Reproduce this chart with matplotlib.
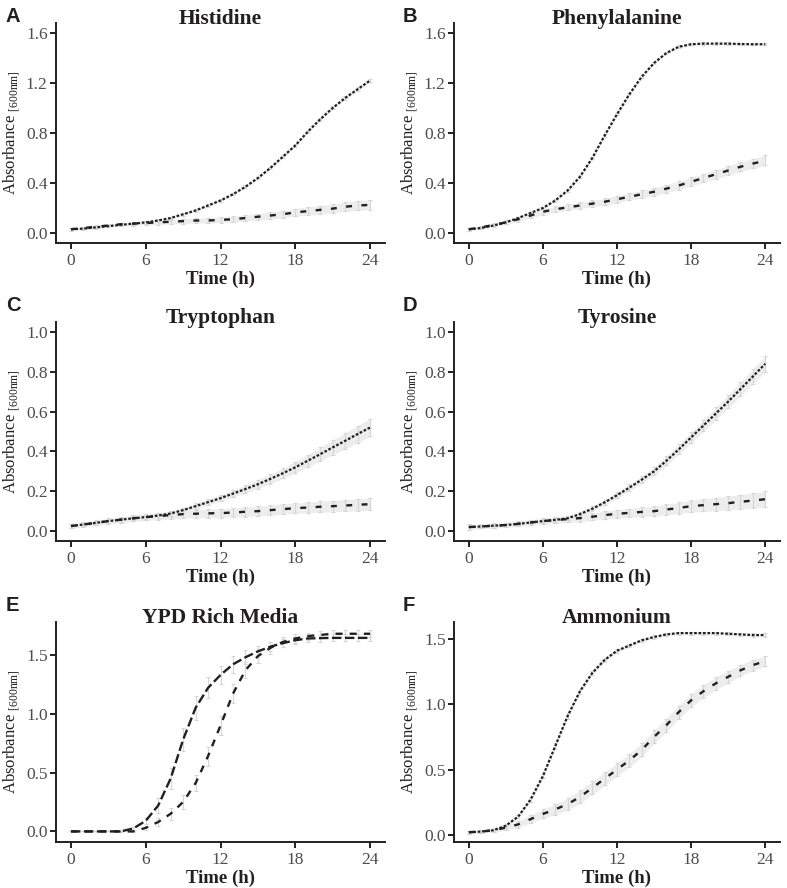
import numpy as np
import matplotlib
matplotlib.use('Agg')
import matplotlib.pyplot as plt

# time points (h)
hours = list(range(0, 25))

# Histidine
his_a = [0.03, 0.035, 0.045, 0.055, 0.065, 0.075, 0.085, 0.10, 0.12, 0.15, 0.18, 0.22, 0.26,
         0.31, 0.37, 0.44, 0.52, 0.61, 0.70, 0.81, 0.91, 1.00, 1.08, 1.15, 1.22]
his_a_err = [0.01] * 20 + [0.012, 0.012, 0.014, 0.015, 0.015]
his_b = [0.03, 0.04, 0.05, 0.06, 0.07, 0.075, 0.08, 0.085, 0.09, 0.095, 0.10, 0.10, 0.105,
         0.11, 0.12, 0.13, 0.14, 0.15, 0.165, 0.175, 0.185, 0.195, 0.21, 0.22, 0.225]
his_b_err = [0.01, 0.01, 0.012, 0.013, 0.014, 0.015, 0.016, 0.017, 0.018, 0.019, 0.02, 0.021, 0.022,
             0.023, 0.025, 0.026, 0.028, 0.029, 0.031, 0.032, 0.034, 0.035, 0.037, 0.038, 0.04]

# Phenylalanine
phe_a = [0.03, 0.04, 0.06, 0.085, 0.12, 0.16, 0.20, 0.26, 0.34, 0.45, 0.60, 0.78, 0.95,
         1.11, 1.25, 1.36, 1.44, 1.49, 1.51, 1.515, 1.515, 1.515, 1.512, 1.51, 1.51]
phe_a_err = [0.01] * 25
phe_b = [0.03, 0.045, 0.065, 0.085, 0.11, 0.14, 0.17, 0.19, 0.205, 0.22, 0.235, 0.25, 0.27,
         0.29, 0.31, 0.33, 0.355, 0.38, 0.41, 0.44, 0.47, 0.50, 0.53, 0.555, 0.58]
phe_b_err = [0.01, 0.012, 0.014, 0.016, 0.018, 0.02, 0.022, 0.023, 0.024, 0.025, 0.026, 0.027, 0.028,
             0.029, 0.03, 0.031, 0.032, 0.033, 0.034, 0.035, 0.036, 0.037, 0.038, 0.039, 0.04]

# Tryptophan
trp_a = [0.025, 0.033, 0.041, 0.05, 0.057, 0.064, 0.07, 0.078, 0.088, 0.105, 0.125, 0.145, 0.165,
         0.188, 0.211, 0.235, 0.262, 0.29, 0.32, 0.353, 0.386, 0.42, 0.453, 0.487, 0.52]
trp_a_err = [0.012, 0.01, 0.01, 0.01, 0.01, 0.01, 0.01, 0.011, 0.012, 0.013, 0.014, 0.015, 0.016,
             0.018, 0.02, 0.022, 0.024, 0.026, 0.028, 0.031, 0.034, 0.037, 0.04, 0.043, 0.045]
trp_b = [0.025, 0.033, 0.041, 0.05, 0.057, 0.064, 0.07, 0.075, 0.08, 0.085, 0.087, 0.089, 0.09,
         0.093, 0.097, 0.10, 0.105, 0.11, 0.115, 0.118, 0.122, 0.125, 0.128, 0.132, 0.135]
trp_b_err = [0.012, 0.012, 0.013, 0.014, 0.015, 0.016, 0.017, 0.018, 0.019, 0.02, 0.021, 0.022, 0.022,
             0.023, 0.024, 0.024, 0.025, 0.026, 0.026, 0.027, 0.028, 0.028, 0.029, 0.03, 0.03]

# Tyrosine
tyr_a = [0.02, 0.023, 0.027, 0.03, 0.036, 0.043, 0.05, 0.056, 0.064, 0.085, 0.112, 0.144, 0.18,
         0.218, 0.258, 0.30, 0.353, 0.41, 0.47, 0.53, 0.59, 0.65, 0.713, 0.776, 0.84]
tyr_a_err = [0.015, 0.01, 0.01, 0.01, 0.01, 0.01, 0.01, 0.01, 0.011, 0.012, 0.013, 0.014, 0.015,
             0.017, 0.019, 0.021, 0.023, 0.025, 0.027, 0.029, 0.031, 0.033, 0.035, 0.037, 0.04]
tyr_b = [0.02, 0.023, 0.027, 0.03, 0.036, 0.043, 0.05, 0.055, 0.06, 0.065, 0.072, 0.08, 0.087,
         0.091, 0.096, 0.10, 0.108, 0.116, 0.125, 0.13, 0.135, 0.14, 0.147, 0.153, 0.16]
tyr_b_err = [0.015, 0.01, 0.011, 0.012, 0.013, 0.014, 0.015, 0.016, 0.017, 0.018, 0.019, 0.02, 0.021,
             0.022, 0.024, 0.025, 0.027, 0.028, 0.03, 0.031, 0.033, 0.034, 0.036, 0.038, 0.04]

# YPD rich media
ypd_a = [0.0, 0.0, 0.0, 0.0, 0.0, 0.025, 0.09, 0.22, 0.45, 0.78, 1.05, 1.22, 1.33,
         1.42, 1.48, 1.53, 1.57, 1.60, 1.625, 1.64, 1.643, 1.645, 1.645, 1.645, 1.645]
ypd_a_err = [0.0, 0.0, 0.0, 0.0, 0.005, 0.01, 0.03, 0.06, 0.09, 0.1, 0.1, 0.09, 0.08,
             0.07, 0.06, 0.05, 0.04, 0.035, 0.03, 0.03, 0.03, 0.03, 0.03, 0.03, 0.03]
ypd_b = [0.0, 0.0, 0.0, 0.0, 0.0, 0.0, 0.03, 0.08, 0.15, 0.25, 0.41, 0.64, 0.90,
         1.17, 1.37, 1.49, 1.56, 1.61, 1.64, 1.66, 1.67, 1.68, 1.68, 1.68, 1.68]
ypd_b_err = [0.0, 0.0, 0.0, 0.0, 0.0, 0.005, 0.015, 0.03, 0.05, 0.06, 0.07, 0.08, 0.08,
             0.08, 0.07, 0.06, 0.05, 0.04, 0.035, 0.03, 0.03, 0.03, 0.03, 0.03, 0.03]

# Ammonium
amm_a = [0.02, 0.025, 0.035, 0.07, 0.14, 0.27, 0.45, 0.68, 0.91, 1.10, 1.24, 1.34, 1.41,
         1.45, 1.49, 1.515, 1.535, 1.545, 1.545, 1.545, 1.545, 1.54, 1.535, 1.53, 1.53]
amm_a_err = [0.01, 0.01, 0.01, 0.012, 0.014, 0.016, 0.018, 0.02, 0.02, 0.02, 0.018, 0.016, 0.015,
             0.014, 0.013, 0.012, 0.012, 0.012, 0.012, 0.012, 0.012, 0.012, 0.012, 0.012, 0.012]
amm_b = [0.02, 0.025, 0.035, 0.055, 0.08, 0.12, 0.16, 0.195, 0.235, 0.29, 0.36, 0.43, 0.50,
         0.57, 0.65, 0.75, 0.84, 0.94, 1.03, 1.10, 1.16, 1.21, 1.26, 1.30, 1.33]
amm_b_err = [0.01, 0.012, 0.015, 0.02, 0.025, 0.03, 0.035, 0.04, 0.045, 0.05, 0.05, 0.05, 0.05,
             0.05, 0.05, 0.05, 0.05, 0.05, 0.05, 0.05, 0.048, 0.046, 0.044, 0.042, 0.04]

panels = [
    ('A', 'Histidine', his_a, his_a_err, his_b, his_b_err, [0.0, 0.4, 0.8, 1.2, 1.6], (-0.08, 1.68)),
    ('B', 'Phenylalanine', phe_a, phe_a_err, phe_b, phe_b_err, [0.0, 0.4, 0.8, 1.2, 1.6], (-0.08, 1.68)),
    ('C', 'Tryptophan', trp_a, trp_a_err, trp_b, trp_b_err, [0.0, 0.2, 0.4, 0.6, 0.8, 1.0], (-0.05, 1.05)),
    ('D', 'Tyrosine', tyr_a, tyr_a_err, tyr_b, tyr_b_err, [0.0, 0.2, 0.4, 0.6, 0.8, 1.0], (-0.05, 1.05)),
    ('E', 'YPD Rich Media', ypd_a, ypd_a_err, ypd_b, ypd_b_err, [0.0, 0.5, 1.0, 1.5], (-0.09, 1.78)),
    ('F', 'Ammonium', amm_a, amm_a_err, amm_b, amm_b_err, [0.0, 0.5, 1.0, 1.5], (-0.055, 1.63)),
]

# axes boxes in pixels: left, right, top, bottom
boxes = [(56, 385, 23, 243), (454, 780, 23, 243),
         (56, 385, 322, 541), (454, 780, 322, 541),
         (56, 385, 622, 842), (454, 780, 622, 842)]
letter_pos = [(6, 7), (403, 7), (6, 296), (403, 296), (6, 596), (403, 596)]

W, H = 787, 888
dark = '#231f20'
serif = 'Liberation Serif'

plt.rcParams['mathtext.fontset'] = 'custom'
plt.rcParams['mathtext.rm'] = serif

fig = plt.figure(figsize=(W / 100, H / 100), dpi=100)

for i, (letter, title, ya, ea, yb, eb, yticks, ylim) in enumerate(panels):
    l, r, t, b = boxes[i]
    ax = fig.add_axes([l / W, 1 - b / H, (r - l) / W, (b - t) / H])
    t_arr = np.array(hours)
    for y, e in ((ya, ea), (yb, eb)):
        y = np.array(y)
        e = np.array(e)
        if letter != 'E':
            ax.fill_between(t_arr, y - e, y + e, color='#ededed', lw=0, zorder=1)
        ax.errorbar(t_arr, y, yerr=e, fmt='none', ecolor='#d6d6d6', elinewidth=0.8,
                    capsize=1.5, capthick=0.8, zorder=2)
    if letter == 'E':
        ax.plot(hours, ya, color=dark, lw=1.7, ls=(0, (4, 1.5)), zorder=3)
        ax.plot(hours, yb, color=dark, lw=1.7, ls=(0, (3, 3)), zorder=3)
    else:
        ax.plot(hours, ya, color=dark, lw=1.6, ls=(0, (1.2, 0.8)), zorder=3)
        ax.plot(hours, yb, color=dark, lw=1.7, ls=(0, (2.5, 4)), zorder=3)

    ax.set_xlim(-1.2, 25.2)
    ax.set_ylim(*ylim)
    ax.set_xticks([0, 6, 12, 18, 24])
    ax.set_yticks(yticks)
    ax.set_yticklabels(['%.1f' % v for v in yticks])
    for s in ['top', 'right']:
        ax.spines[s].set_visible(False)
    for s in ['left', 'bottom']:
        ax.spines[s].set_color(dark)
        ax.spines[s].set_linewidth(1.4)
    ax.tick_params(colors=dark, width=1.4, length=4, labelsize=12.5, labelcolor='#4d4d4d')
    ax.tick_params(axis='y', pad=2)
    for lab in ax.get_xticklabels() + ax.get_yticklabels():
        lab.set_fontfamily(serif)

    ax.set_title(title, fontfamily=serif, fontweight='bold', fontsize=15.5, color=dark,
                 y=1.0, pad=-1)
    ax.set_xlabel('Time (h)', fontfamily=serif, fontweight='bold', fontsize=13.5, color=dark, labelpad=1)
    ax.set_ylabel(r'Absorbance $_{\mathregular{[600nm]}}$', fontfamily=serif, fontsize=12,
                  color=dark, labelpad=3)

    lx, ly = letter_pos[i]
    fig.text(lx / W, 1 - ly / H, letter, fontfamily='Liberation Sans', fontweight='bold',
             fontsize=14.5, color=dark, va='top', ha='left')

fig.savefig('out.png', dpi=100)
